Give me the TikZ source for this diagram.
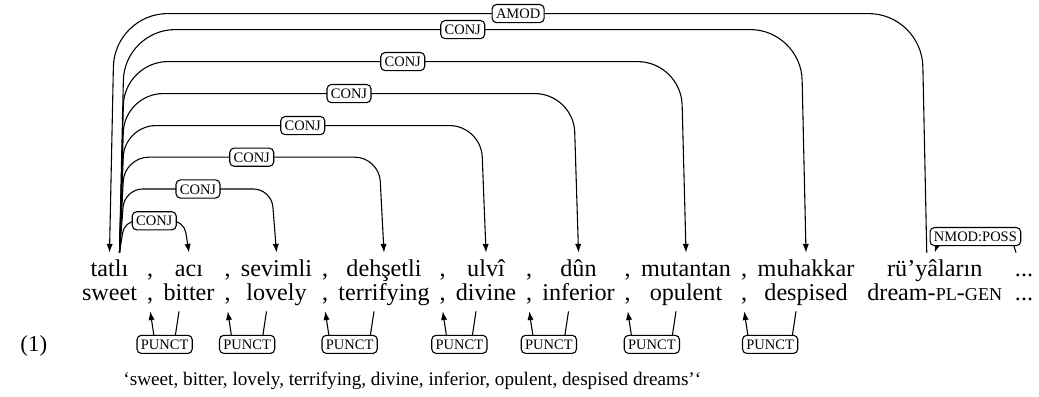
\documentclass[tikz,border=0pt]{standalone}
\usepackage{fontspec}
\setmainfont{Liberation Serif}
\usetikzlibrary{calc,arrows.meta}

% fake small caps for the glosses
\newcommand{\glsc}[1]{{\fontsize{7.5}{9}\selectfont #1}}

\begin{document}
\begin{tikzpicture}[x=0.01455cm,y=-0.01455cm,
    word/.style={anchor=base,inner xsep=0pt,inner ysep=2.5pt,
      text height=7pt,text depth=2pt,font=\fontsize{10}{12}\selectfont},
    lbl/.style={draw,fill=white,rounded corners=1.8pt,inner xsep=1.6pt,
      inner ysep=1.6pt,text height=4.3pt,text depth=0pt,
      font=\fontsize{6}{7}\selectfont},
    dep/.style={line width=0.45pt,-{Latex[length=3.6pt,width=2.6pt]}}]

    \useasboundingbox (0,0) rectangle (1039,396);

    % Turkish words
    \node[word] (t1)  at (109.5,276)  {tatlı};
    \node[word] (t2)  at (150.25,276) {,};
    \node[word] (t3)  at (189,276)    {acı};
    \node[word] (t4)  at (227.75,276) {,};
    \node[word] (t5)  at (276.5,276)  {sevimli};
    \node[word] (t6)  at (325.25,276) {,};
    \node[word] (t7)  at (384,276)    {dehşetli};
    \node[word] (t8)  at (442.75,276) {,};
    \node[word] (t9)  at (486,276)    {ulvî};
    \node[word] (t10) at (529.25,276) {,};
    \node[word] (t11) at (578.5,276)  {dûn};
    \node[word] (t12) at (627.75,276) {,};
    \node[word] (t13) at (686,276)    {mutantan};
    \node[word] (t14) at (744.25,276) {,};
    \node[word] (t15) at (806,276)    {muhakkar};
    \node[word] (t16) at (934.75,276) {rü’yâların};
    \node[word] (t17) at (1024,276)   {...};

    % Glosses
    \node[word] (g1)  at (109.5,300)  {sweet};
    \node[word] (g2)  at (150.25,300) {,};
    \node[word] (g3)  at (189,300)    {bitter};
    \node[word] (g4)  at (227.75,300) {,};
    \node[word] (g5)  at (276.5,300)  {lovely};
    \node[word] (g6)  at (325.25,300) {,};
    \node[word] (g7)  at (384,300)    {terrifying};
    \node[word] (g8)  at (442.75,300) {,};
    \node[word] (g9)  at (486,300)    {divine};
    \node[word] (g10) at (529.25,300) {,};
    \node[word] (g11) at (578.5,300)  {inferior};
    \node[word] (g12) at (627.75,300) {,};
    \node[word] (g13) at (686,300)    {opulent};
    \node[word] (g14) at (744.25,300) {,};
    \node[word] (g15) at (806,300)    {despised};
    \node[word] (g16) at (934.75,300) {dream-\glsc{PL}-\glsc{GEN}};
    \node[word] (g17) at (1024,300)   {...};

    % Example number and translation
    \node[anchor=base west,inner sep=0pt,font=\fontsize{9.5}{11}\selectfont]
      (num) at (20,351) {(1)};
    \node[anchor=base west,inner sep=0pt,font=\fontsize{7.95}{10}\selectfont]
      (trans) at (123,385)
      {‘sweet, bitter, lovely, terrifying, divine, inferior, opulent, despised dreams’‘};

    % conj arcs out of tatli
    \draw[dep,rounded corners=5pt] ($(t1.north)+(10,0)$) -- ++(5,-31.8)
      -- node[lbl] (c3) {CONJ} ($(t3.north)+(-5,-31.8)$) -- (t3.north);
    \draw[dep,rounded corners=7.5pt] ($(t1.north)+(10,0)$) -- ++(5,-63.6)
      -- node[lbl] (c5) {CONJ} ($(t5.north)+(-5,-63.6)$) -- (t5.north);
    \draw[dep,rounded corners=10pt] ($(t1.north)+(10,0)$) -- ++(5,-95.4)
      -- node[lbl] (c7) {CONJ} ($(t7.north)+(-5,-95.4)$) -- (t7.north);
    \draw[dep,rounded corners=13pt] ($(t1.north)+(10,0)$) -- ++(5,-127)
      -- node[lbl] (c9) {CONJ} ($(t9.north)+(-5,-127)$) -- (t9.north);
    \draw[dep,rounded corners=16pt] ($(t1.north)+(10,0)$) -- ++(5,-159)
      -- node[lbl] (c11) {CONJ} ($(t11.north)+(-5,-159)$) -- (t11.north);
    \draw[dep,rounded corners=18pt] ($(t1.north)+(10,0)$) -- ++(5,-191)
      -- node[lbl] (c13) {CONJ} ($(t13.north)+(-5,-191)$) -- (t13.north);
    \draw[dep,rounded corners=21pt] ($(t1.north)+(10,0)$) -- ++(5,-223)
      -- node[lbl] (c15) {CONJ} ($(t15.north)+(-5,-223)$) -- (t15.north);

    % amod and nmod:poss
    \draw[dep,rounded corners=22pt] ($(t16.north)+(-8,0)$) -- ++(-5,-239)
      -- node[lbl] (amod) {AMOD} ($(t1.north)+(5,-239)$) -- (t1.north);
    \draw[dep,rounded corners=2pt] ($(t17.north)+(-8,0)$) -- ++(-5,-16)
      -- node[lbl] (poss) {NMOD:POSS} ($(t16.north)+(5,-16)$) -- (t16.north);

    % punct arcs below the glosses
    \draw[dep] ($(g3.south)+(-10,0)$) -- ++(-5,33)
      -- node[lbl] (p2) {PUNCT} ($(g2.south)+(5,33)$) -- (g2.south);
    \draw[dep] ($(g5.south)+(-10,0)$) -- ++(-5,33)
      -- node[lbl] (p4) {PUNCT} ($(g4.south)+(5,33)$) -- (g4.south);
    \draw[dep] ($(g7.south)+(-10,0)$) -- ++(-5,33)
      -- node[lbl] (p6) {PUNCT} ($(g6.south)+(5,33)$) -- (g6.south);
    \draw[dep] ($(g9.south)+(-10,0)$) -- ++(-5,33)
      -- node[lbl] (p8) {PUNCT} ($(g8.south)+(5,33)$) -- (g8.south);
    \draw[dep] ($(g11.south)+(-10,0)$) -- ++(-5,33)
      -- node[lbl] (p10) {PUNCT} ($(g10.south)+(5,33)$) -- (g10.south);
    \draw[dep] ($(g13.south)+(-10,0)$) -- ++(-5,33)
      -- node[lbl] (p12) {PUNCT} ($(g12.south)+(5,33)$) -- (g12.south);
    \draw[dep] ($(g15.south)+(-10,0)$) -- ++(-5,33)
      -- node[lbl] (p14) {PUNCT} ($(g14.south)+(5,33)$) -- (g14.south);

\end{tikzpicture}
\end{document}
